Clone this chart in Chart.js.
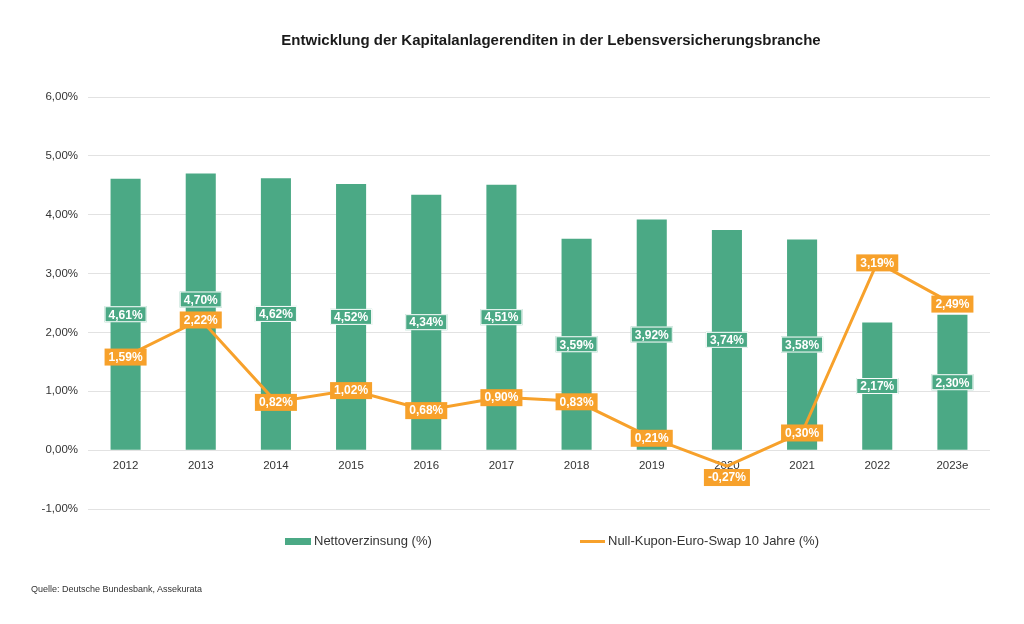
<!DOCTYPE html>
<html>
<head>
<meta charset="utf-8">
<script src="https://cdn.jsdelivr.net/npm/chart.js"></script>
<style>
  body { margin: 0; background: #fff; font-family: "Liberation Sans", Arial, sans-serif; }
  #wrap { position: relative; width: 1024px; height: 624px; }
  #title { position: absolute; top: 31px; left: 78px; width: 946px; text-align: center;
           font-weight: bold; font-size: 15px; color: #1a1a1a; }
  .leg { position: absolute; top: 533px; font-size: 13px; color: #333; }
  .leg span { display: inline-block; vertical-align: middle; margin-right: 3px; }
  #source { position: absolute; left: 31px; top: 584px; font-size: 9px; color: #333; }
</style>
</head>
<body>
<div id="wrap">
  <canvas id="chart" width="1024" height="624"></canvas>
  <div id="title">Entwicklung der Kapitalanlagerenditen in der Lebensversicherungsbranche</div>
  <div class="leg" style="left:285px"><span style="width:26px;height:7px;background:#4BA985"></span>Nettoverzinsung (%)</div>
  <div class="leg" style="left:580px"><span style="width:25px;height:3px;background:#F7A12B"></span>Null-Kupon-Euro-Swap 10 Jahre (%)</div>
  <div id="source">Quelle: Deutsche Bundesbank, Assekurata</div>
</div>
<script>
// values
const years = ['2012', '2013', '2014', '2015', '2016', '2017', '2018', '2019', '2020', '2021', '2022', '2023e'];
const nettoverzinsung = [4.61, 4.70, 4.62, 4.52, 4.34, 4.51, 3.59, 3.92, 3.74, 3.58, 2.17, 2.30];
const swap10 = [1.59, 2.22, 0.82, 1.02, 0.68, 0.90, 0.83, 0.21, -0.27, 0.30, 3.19, 2.49];

const green = '#4BA985';
const orange = '#F7A12B';

function pct(v) {
    return v.toFixed(2).replace('.', ',') + '%';
}

// boxed value labels: green ones mid-bar, orange ones on the line points
const valueBoxes = {
    id: 'valueBoxes',
    afterDatasetsDraw(chart) {
        const ctx = chart.ctx;
        const h = 16;
        ctx.save();
        ctx.font = 'bold 12px "Liberation Sans", Arial, sans-serif';
        ctx.textAlign = 'center';
        ctx.textBaseline = 'middle';

        const lineIdx = chart.data.datasets.findIndex(d => d.type === 'line');
        const barIdx = chart.data.datasets.findIndex(d => d.type === 'bar');
        const lineMeta = chart.getDatasetMeta(lineIdx);
        const barMeta = chart.getDatasetMeta(barIdx);
        const lineY = lineMeta.data.map((el, i) => swap10[i] < 0 ? el.y + 11 : el.y);

        // bar labels first, pushed up if they would sit on the orange label
        barMeta.data.forEach((el, i) => {
            const text = pct(nettoverzinsung[i]);
            const w = ctx.measureText(text).width + 8;
            let y = (el.y + el.base) / 2;
            const oy = lineY[i];
            if (Math.abs(y - oy) < h + 2) {
                y = oy - h - 4;
            }
            ctx.fillStyle = green;
            ctx.fillRect(el.x - w / 2, y - h / 2, w, h);
            ctx.strokeStyle = '#ffffff';
            ctx.lineWidth = 1;
            ctx.strokeRect(el.x - w / 2 + 0.5, y - h / 2 + 0.5, w - 1, h - 1);
            ctx.fillStyle = '#ffffff';
            ctx.fillText(text, el.x, y + 1);
        });

        lineMeta.data.forEach((el, i) => {
            const text = pct(swap10[i]);
            const w = ctx.measureText(text).width + 8;
            const y = lineY[i];
            ctx.fillStyle = orange;
            ctx.fillRect(el.x - w / 2, y - h / 2, w, h + 1);
            ctx.fillStyle = '#ffffff';
            ctx.fillText(text, el.x, y + 1);
        });
        ctx.restore();
    }
};

new Chart(document.getElementById('chart'), {
    data: {
        labels: years,
        datasets: [
            {
                type: 'line',
                label: 'Null-Kupon-Euro-Swap 10 Jahre (%)',
                data: swap10,
                borderColor: orange,
                backgroundColor: orange,
                borderWidth: 3,
                pointRadius: 0,
                tension: 0,
                order: 1
            },
            {
                type: 'bar',
                label: 'Nettoverzinsung (%)',
                data: nettoverzinsung,
                backgroundColor: green,
                barPercentage: 0.4,
                categoryPercentage: 1,
                order: 2
            }
        ]
    },
    options: {
        responsive: false,
        animation: false,
        layout: { padding: { top: 97, bottom: 115, right: 34, left: 0 } },
        plugins: {
            legend: { display: false },
            tooltip: { enabled: false }
        },
        scales: {
            x: {
                position: { y: 0 },
                z: 1,
                grid: { display: false },
                border: { display: false },
                ticks: {
                    color: '#333',
                    padding: 1,
                    font: { family: '"Liberation Sans", Arial, sans-serif', size: 11.5 }
                }
            },
            y: {
                min: -1,
                max: 6,
                afterFit(scale) { scale.width = 88; },
                grid: { color: '#e2e2e2', drawTicks: false },
                border: { display: false },
                ticks: {
                    stepSize: 1,
                    padding: 10,
                    color: '#333',
                    font: { family: '"Liberation Sans", Arial, sans-serif', size: 11.5 },
                    callback: v => pct(v)
                }
            }
        }
    },
    plugins: [valueBoxes]
});
</script>
</body>
</html>
